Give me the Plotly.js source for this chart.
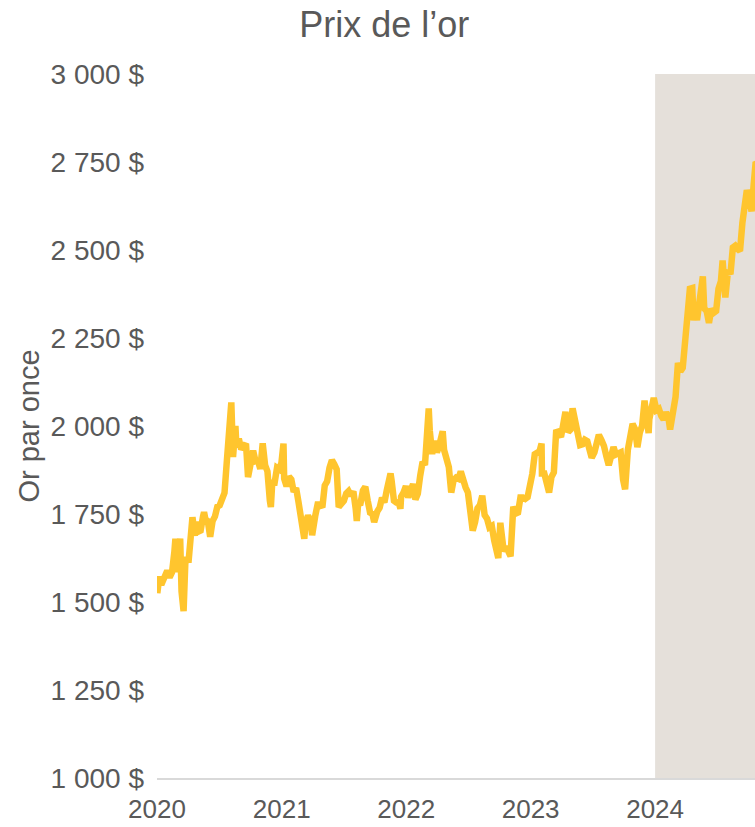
<!DOCTYPE html>
<html>
<head>
<meta charset="utf-8">
<script src="https://cdn.plot.ly/plotly-3.0.1.min.js"></script>
<style>
  html, body { margin: 0; padding: 0; background: #ffffff; }
  #chart { width: 755px; height: 827px; }
</style>
</head>
<body>
<div id="chart"></div>
<script>
const dates = [
"2020-01-02","2020-01-08","2020-01-10","2020-01-17","2020-01-24","2020-01-31","2020-02-07","2020-02-14","2020-02-21","2020-02-24","2020-02-28",
"2020-03-06","2020-03-09","2020-03-13","2020-03-19","2020-03-24","2020-03-27","2020-04-03","2020-04-09","2020-04-14","2020-04-21","2020-04-24",
"2020-05-01","2020-05-08","2020-05-15","2020-05-18","2020-05-22","2020-05-29","2020-06-05","2020-06-12","2020-06-19","2020-06-26",
"2020-07-03","2020-07-10","2020-07-17","2020-07-24","2020-07-31","2020-08-06","2020-08-11","2020-08-14","2020-08-18","2020-08-21","2020-08-28",
"2020-09-04","2020-09-11","2020-09-18","2020-09-24","2020-10-02","2020-10-09","2020-10-16","2020-10-23","2020-10-30",
"2020-11-06","2020-11-13","2020-11-20","2020-11-27","2020-11-30","2020-12-04","2020-12-11","2020-12-18","2020-12-24","2020-12-31",
"2021-01-06","2021-01-08","2021-01-15","2021-01-22","2021-01-29","2021-02-05","2021-02-12","2021-02-19","2021-02-26",
"2021-03-08","2021-03-12","2021-03-19","2021-03-26","2021-03-31","2021-04-09","2021-04-16","2021-04-23","2021-04-30",
"2021-05-07","2021-05-14","2021-05-21","2021-05-28","2021-06-04","2021-06-11","2021-06-17","2021-06-25",
"2021-07-02","2021-07-09","2021-07-16","2021-07-23","2021-07-30","2021-08-06","2021-08-09","2021-08-13","2021-08-20","2021-08-27",
"2021-09-03","2021-09-10","2021-09-17","2021-09-24","2021-09-29","2021-10-08","2021-10-15","2021-10-22","2021-10-29",
"2021-11-05","2021-11-16","2021-11-19","2021-11-26","2021-12-03","2021-12-10","2021-12-15","2021-12-17","2021-12-24","2021-12-31",
"2022-01-07","2022-01-14","2022-01-21","2022-01-28","2022-02-04","2022-02-11","2022-02-18","2022-02-25",
"2022-03-04","2022-03-08","2022-03-11","2022-03-18","2022-03-25","2022-04-01","2022-04-08","2022-04-18","2022-04-22","2022-04-29",
"2022-05-06","2022-05-13","2022-05-20","2022-05-27","2022-06-03","2022-06-10","2022-06-17","2022-06-24",
"2022-07-01","2022-07-08","2022-07-15","2022-07-22","2022-07-29","2022-08-05","2022-08-12","2022-08-19","2022-08-26",
"2022-09-02","2022-09-09","2022-09-16","2022-09-23","2022-09-28","2022-10-04","2022-10-07","2022-10-14","2022-10-21","2022-10-28",
"2022-11-03","2022-11-11","2022-11-18","2022-11-25","2022-12-02","2022-12-09","2022-12-16","2022-12-23","2022-12-30",
"2023-01-06","2023-01-13","2023-01-20","2023-01-27","2023-02-02","2023-02-03","2023-02-10","2023-02-17","2023-02-24",
"2023-03-03","2023-03-10","2023-03-17","2023-03-24","2023-03-31","2023-04-07","2023-04-13","2023-04-21","2023-04-28",
"2023-05-04","2023-05-12","2023-05-19","2023-05-26","2023-06-02","2023-06-09","2023-06-16","2023-06-23","2023-06-29",
"2023-07-07","2023-07-14","2023-07-20","2023-07-28","2023-08-04","2023-08-11","2023-08-18","2023-08-25",
"2023-09-01","2023-09-08","2023-09-15","2023-09-22","2023-09-29","2023-10-05","2023-10-13","2023-10-20","2023-10-27",
"2023-11-03","2023-11-10","2023-11-17","2023-11-24","2023-12-01","2023-12-08","2023-12-13","2023-12-15","2023-12-22","2023-12-28",
"2024-01-05","2024-01-12","2024-01-19","2024-01-26","2024-02-02","2024-02-09","2024-02-14","2024-02-23",
"2024-03-01","2024-03-08","2024-03-15","2024-03-22","2024-03-29","2024-04-05","2024-04-12","2024-04-19","2024-04-23","2024-04-26",
"2024-05-03","2024-05-10","2024-05-20","2024-05-24","2024-05-31","2024-06-07","2024-06-14","2024-06-21","2024-06-28",
"2024-07-05","2024-07-12","2024-07-17","2024-07-25","2024-08-02","2024-08-09","2024-08-16","2024-08-23","2024-08-30",
"2024-09-06","2024-09-13","2024-09-20","2024-09-26","2024-10-04","2024-10-10","2024-10-16","2024-10-18","2024-10-22","2024-10-25"
];
const prices = [
1525,1573,1560,1557,1571,1589,1570,1584,1643,1680,1585,
1673,1680,1530,1474,1610,1620,1620,1700,1741,1688,1728,
1700,1703,1743,1755,1735,1730,1685,1730,1743,1771,
1775,1799,1810,1902,1975,2067,1912,1944,2000,1940,1964,
1934,1940,1950,1855,1900,1930,1900,1902,1878,
1951,1889,1871,1788,1770,1839,1839,1881,1877,1895,
1950,1850,1829,1856,1848,1813,1824,1784,1734,
1680,1727,1745,1733,1690,1744,1777,1777,1769,
1831,1843,1881,1903,1891,1877,1770,1781,
1787,1808,1815,1802,1814,1763,1730,1779,1781,1817,
1827,1788,1754,1750,1727,1757,1768,1796,1783,
1818,1865,1846,1788,1783,1783,1765,1799,1811,1829,
1797,1817,1835,1791,1808,1859,1898,1889,
1970,2050,1988,1921,1958,1925,1945,1985,1932,1896,
1883,1811,1846,1853,1850,1871,1839,1826,
1811,1742,1703,1727,1766,1775,1802,1747,1737,
1712,1716,1675,1644,1625,1725,1695,1644,1657,1645,
1630,1771,1751,1754,1797,1797,1793,1798,1824,
1865,1920,1926,1928,1950,1865,1865,1842,1811,
1855,1868,1989,1978,1969,2007,2040,1983,1990,
2050,2011,1978,1946,1948,1961,1957,1921,1910,
1925,1955,1975,1959,1943,1914,1889,1914,
1940,1919,1924,1925,1848,1820,1932,1981,2006,
1992,1940,1981,2001,2072,2004,1980,2019,2053,2080,
2045,2049,2029,2018,2039,2024,1990,2035,
2083,2179,2155,2165,2233,2330,2390,2392,2300,2337,
2301,2360,2425,2334,2327,2293,2333,2322,2327,
2390,2411,2470,2365,2443,2431,2507,2512,2503,
2497,2577,2621,2670,2640,2610,2685,2721,2750,2747
];

const yTickValues = [1000,1250,1500,1750,2000,2250,2500,2750,3000];
const yTickLabels = ["1 000 $","1 250 $","1 500 $","1 750 $","2 000 $","2 250 $","2 500 $","2 750 $","3 000 $"];
const xTickValues = ["2020-01-01","2021-01-01","2022-01-01","2023-01-01","2024-01-01"];
const xTickLabels = ["2020","2021","2022","2023","2024"];
const shadeStart = "2024-01-01";
const xRange = ["2020-01-01","2024-10-20"];

const FONT = "'Liberation Sans', Arial, Helvetica, sans-serif";
const TXT = "#595959";

const trace = {
  x: dates, y: prices, type: "scatter", mode: "lines",
  line: { color: "#FFC52E", width: 6.5 },
  hoverinfo: "skip"
};

const layout = {
  width: 755, height: 827,
  margin: { l: 157, r: 0, t: 74, b: 49 },
  paper_bgcolor: "#ffffff", plot_bgcolor: "#ffffff",
  showlegend: false,
  font: { family: FONT, color: TXT },
  title: {
    text: "Prix de l’or",
    font: { family: FONT, size: 36, color: TXT },
    xref: "container", x: 0.509, xanchor: "center",
    yref: "container", y: 0.971, yanchor: "middle"
  },
  xaxis: {
    type: "date", range: xRange,
    tickmode: "array", tickvals: xTickValues, ticktext: xTickLabels,
    tickfont: { family: FONT, size: 26, color: TXT },
    showgrid: false, zeroline: false, ticks: "",
    ticklabelstandoff: 7,
    showline: true, linecolor: "#D9D9D9", linewidth: 2,
    fixedrange: true
  },
  yaxis: {
    range: [1000, 3000],
    tickmode: "array", tickvals: yTickValues, ticktext: yTickLabels,
    tickfont: { family: FONT, size: 28, color: TXT },
    showgrid: false, zeroline: false, ticks: "", showline: false,
    ticklabelstandoff: 12,
    title: { text: "Or par once", font: { family: FONT, size: 29, color: TXT }, standoff: 2 },
    fixedrange: true
  },
  shapes: [{
    type: "rect", layer: "below",
    xref: "x", yref: "paper",
    x0: shadeStart, x1: xRange[1], y0: 0, y1: 1,
    fillcolor: "#E5E0DA", line: { width: 0 }
  }]
};

Plotly.newPlot("chart", [trace], layout, { displayModeBar: false, staticPlot: true });
</script>
</body>
</html>
